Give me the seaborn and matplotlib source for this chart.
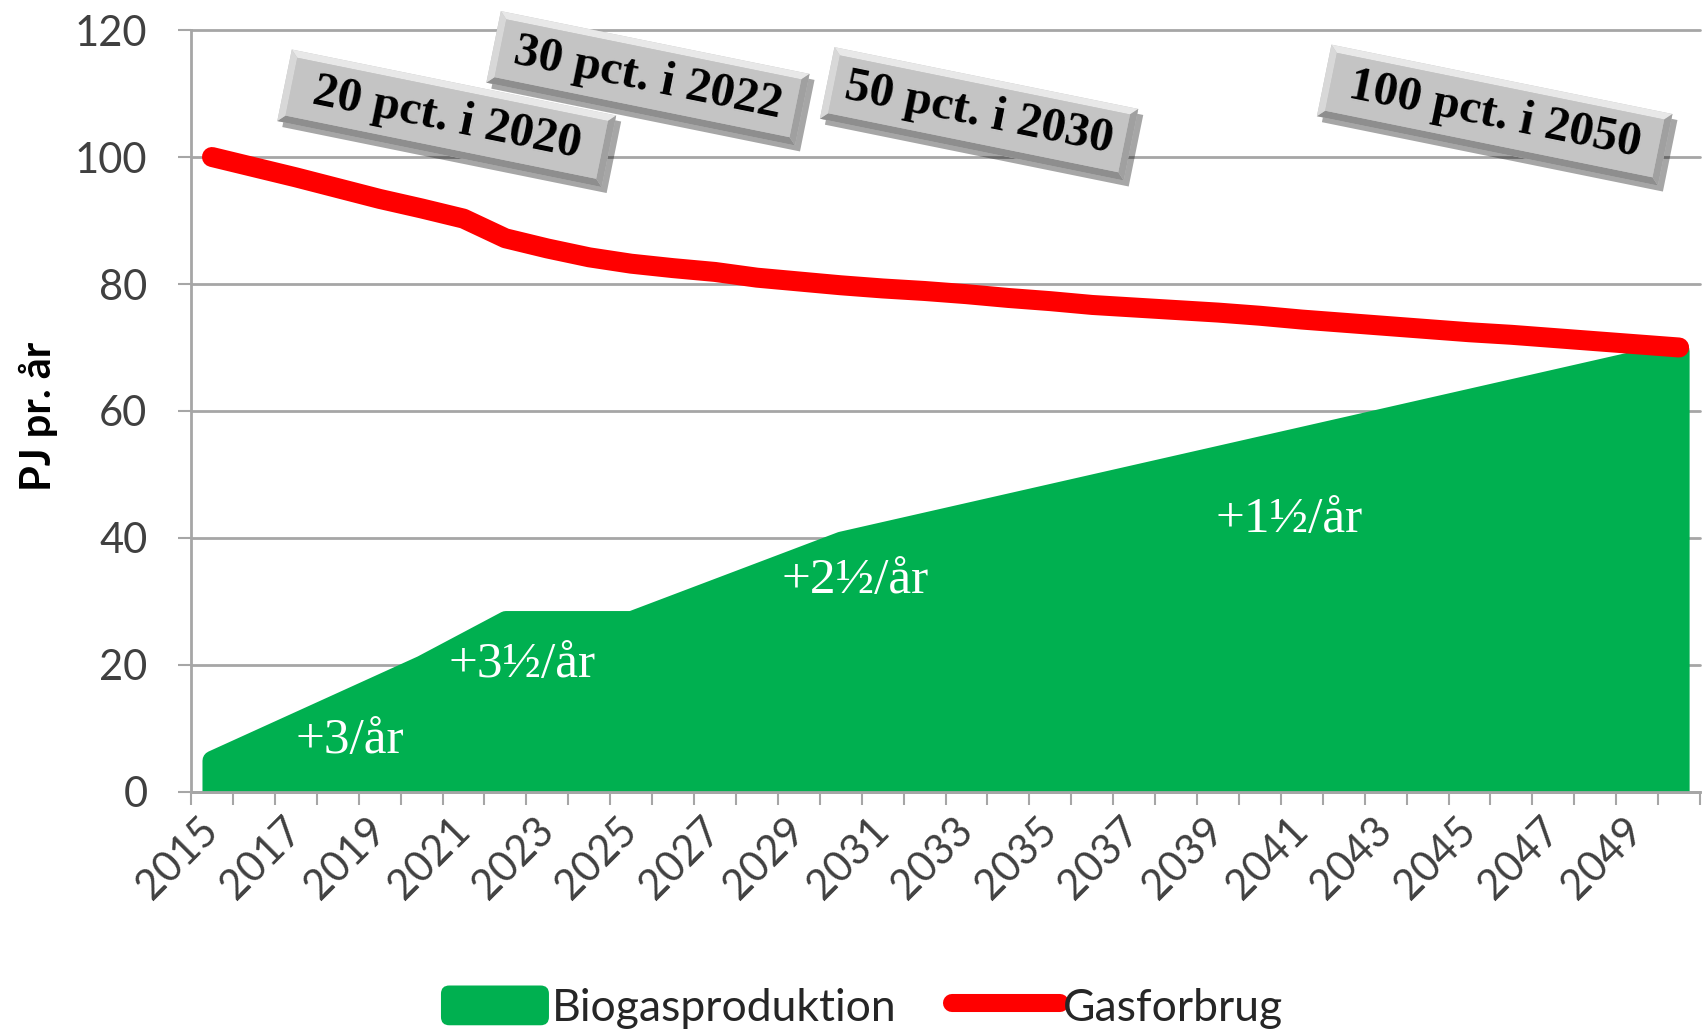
import numpy as np
import seaborn as sns
import matplotlib.pyplot as plt
import matplotlib.transforms as mtransforms
from matplotlib.patches import Polygon, FancyBboxPatch, Patch
from matplotlib.lines import Line2D
from matplotlib.legend_handler import HandlerPatch

# data (PJ per year)
years = list(range(2015, 2051))
biogas = [5, 8, 11, 14, 17, 20, 23.5, 27, 27, 27, 27, 29.5, 32, 34.5, 37, 39.5,
          41, 42.5, 44, 45.5, 47, 48.5, 50, 51.5, 53, 54.5, 56, 57.5, 59, 60.5,
          62, 63.5, 65, 66.5, 68, 69.5]
gas = [100.0, 98.4, 96.8, 95.1, 93.4, 91.9, 90.3, 87.2, 85.6, 84.2, 83.2, 82.5,
       81.9, 81.0, 80.4, 79.8, 79.3, 78.9, 78.4, 77.8, 77.3, 76.7, 76.3, 75.9,
       75.5, 75.0, 74.4, 73.9, 73.4, 72.9, 72.4, 72.0, 71.5, 71.0, 70.5, 70.0]
series_names = ['Biogasproduktion', 'Gasforbrug']

# callouts
target_labels = ['20 pct. i 2020', '30 pct. i 2022', '50 pct. i 2030', '100 pct. i 2050']
rate_labels = ['+3/år', '+3½/år', '+2½/år', '+1½/år']

GREEN = '#00B050'
RED = '#FF0000'
GRID = '#A6A6A6'
TXT = '#404040'

sns.set_theme(style='white')
plt.rcParams['font.family'] = ['Lato', 'DejaVu Sans']

fig, ax = plt.subplots(figsize=(17.04, 10.35), dpi=100)
fig.subplots_adjust(left=0.1121, right=0.9977, bottom=0.2348, top=0.9710)

# area with a thick outline in the same colour (gives the rounded corner)
ax.fill_between(years, biogas, 0, facecolor=GREEN, edgecolor=GREEN,
                linewidth=14.4, joinstyle='round', zorder=2)
sns.lineplot(x=years, y=gas, ax=ax, color=RED, linewidth=14.4,
             solid_capstyle='round', zorder=3)

ax.set_xlim(2014.5, 2050.5)
ax.set_ylim(0, 120)
ax.set_xlabel('')

# axes styling
for side in ['top', 'right']:
    ax.spines[side].set_visible(False)
for side in ['left', 'bottom']:
    ax.spines[side].set_color(GRID)
    ax.spines[side].set_linewidth(2)

ax.set_yticks(range(0, 121, 20))
ax.yaxis.grid(True, color=GRID, linewidth=2)
ax.xaxis.grid(False)
ax.set_axisbelow(True)
for gl in ax.yaxis.get_gridlines():
    gl.set_clip_on(False)
ax.tick_params(axis='y', left=True, length=9.4, width=1.5, color=GRID,
               pad=22, labelsize=30, labelcolor=TXT)

ax.set_xticks(years[::2])
ax.set_xticklabels([str(y) for y in years[::2]], rotation=45, ha='right',
                   va='center', rotation_mode='anchor')
ax.set_xticks(np.arange(2014.5, 2051, 1), minor=True)
ax.tick_params(axis='x', which='major', bottom=True, length=0, pad=23,
               labelsize=30, labelcolor=TXT)
ax.tick_params(axis='x', which='minor', bottom=True, length=9.4, width=1.5,
               color=GRID)

ax.set_ylabel('PJ pr. år', fontsize=30, fontweight='bold', color='black')
ax.yaxis.label.set(va='center', rotation_mode='default')
ax.yaxis.set_label_coords(-0.1014, 0.493)

# white growth-rate labels inside the area
rate_pos = [(2018.3, 6.1), (2022.4, 18.1), (2030.35, 31.3), (2040.7, 40.9)]
for (x, y), s in zip(rate_pos, rate_labels):
    ax.text(x, y, s, color='white', family='Liberation Serif', fontsize=37,
            ha='center', va='baseline', zorder=4)


# grey bevelled callout boxes
def bevel_box(ax, x, y, w, h, label, angle=-11.5, b=7):
    cx, cy = ax.transData.transform((x, y))
    tr = mtransforms.Affine2D().rotate_deg(angle).translate(cx, cy)
    trs = mtransforms.Affine2D().rotate_deg(angle).translate(cx + 5, cy - 6)
    W, H = w / 2, h / 2
    iW, iH = W - b, H - b
    outer = [(-W, -H), (W, -H), (W, H), (-W, H)]
    parts = [
        (outer, '#000000', 0.35, trs),
        (outer, '#C4C4C4', 1, tr),
        ([(-W, H), (W, H), (iW, iH), (-iW, iH)], '#E8E8E8', 1, tr),
        ([(-W, -H), (W, -H), (iW, -iH), (-iW, -iH)], '#8E8E8E', 1, tr),
        ([(-W, H), (-W, -H), (-iW, -iH), (-iW, iH)], '#D8D8D8', 1, tr),
        ([(W, H), (W, -H), (iW, -iH), (iW, iH)], '#A0A0A0', 1, tr),
        ([(-iW, -iH), (iW, -iH), (iW, iH), (-iW, iH)], '#C4C4C4', 1, tr),
    ]
    for pts, col, alpha, t in parts:
        p = Polygon(pts, closed=True, facecolor=col, edgecolor='none',
                    alpha=alpha, transform=t, zorder=5, clip_on=False)
        ax.add_artist(p)
    ax.text(x, y, label, rotation=angle, rotation_mode='anchor', ha='center',
            va='center', family='Liberation Serif', fontweight='bold',
            fontsize=35, color='black', zorder=6, clip_on=False)


box_pos = [(2020.6, 106.1), (2025.4, 112.4), (2033.3, 106.8), (2045.6, 106.6)]
box_w = [331, 315, 310, 348]
for (x, y), w, s in zip(box_pos, box_w, target_labels):
    bevel_box(ax, x, y, w, 73, s)


# legend with rounded green swatch
def rounded_patch(legend, orig_handle, xdescent, ydescent, width, height, fontsize):
    return FancyBboxPatch((-xdescent, -ydescent), width, height,
                          boxstyle='round,pad=0,rounding_size=6')


handles = [Patch(facecolor=GREEN, edgecolor='none'),
           Line2D([], [], color=RED, linewidth=13, solid_capstyle='round')]
fig.legend(handles, series_names, loc='center', bbox_to_anchor=(0.506, 0.027),
           ncol=2, frameon=False, fontsize=32, handlelength=2.43, handleheight=1.0,
           handletextpad=0.07, columnspacing=1.25, labelcolor='#262626',
           handler_map={Patch: HandlerPatch(patch_func=rounded_patch)})

fig.savefig('out.png', dpi=100)
